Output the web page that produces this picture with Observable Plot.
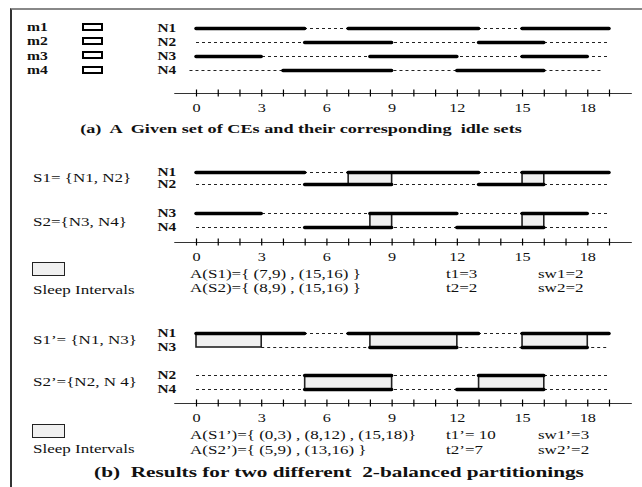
<!DOCTYPE html>
<html><head><meta charset="utf-8">
<script src="https://cdn.jsdelivr.net/npm/d3@7"></script>
<script src="https://cdn.jsdelivr.net/npm/@observablehq/plot@0.6"></script>
<style>
body{margin:0;background:#fff;}
#fig{position:relative;width:642px;height:487px;overflow:hidden;font-family:"Liberation Serif","DejaVu Serif",serif;color:#111;background:#fff;}
#fig svg{position:absolute;left:0;top:0;}
.t{position:absolute;white-space:pre;font-size:12.5px;line-height:1;transform-origin:0 50%;transform:translateY(-50%) scaleX(1.36);}
.b{font-weight:bold;transform:translateY(-50%) scaleX(1.25);}
.cap{font-weight:bold;transform-origin:50% 50%;}
.border{position:absolute;left:10px;top:8px;width:700px;height:600px;border-left:2px solid #333;border-top:2px solid #888;}
.sw{position:absolute;border:1.5px solid #222;background:#f0f0f0;box-sizing:border-box;}
.mbox{position:absolute;border:2px solid #000;background:#fff;box-sizing:border-box;width:21px;height:8px;}
</style></head><body><div id="fig"><div class="border"></div></div>
<script>
// ---------- data ----------
const machines = ["m1", "m2", "m3", "m4"];
const nodesA = ["N1", "N2", "N3", "N4"];
const n1Active = [[0, 5], [7, 13], [15, 19]];
const n2Active = [[5, 9], [13, 16]];
const n3Active = [[0, 3], [8, 12], [15, 18]];
const n3ActiveB2 = [[8, 12], [15, 18]];
const n4ActiveA = [[4, 9], [12, 16]];
const n4ActiveB = [[5, 9], [12, 16]];
const fullSpan = [0, 19];
const n4SpanA = [-0.3, 18.7];
const sleepS1 = [[7, 9], [15, 16]];
const sleepS2 = [[8, 9], [15, 16]];
const sleepS1p = [[0, 3], [8, 12], [15, 18]];
const sleepS2p = [[5, 9], [13, 16]];
const tickMarks = [0,1,2,3,4,5,6,7,8,9,10,11,12,13,14,15,16,17,18,19];
const tickLabels = [0, 3, 6, 9, 12, 15, 18];
const axisExtent = [-1, 20.05];
const groupLabels = ["S1= {N1, N2}", "S2={N3, N4}", "S1\u2019= {N1, N3}", "S2\u2019={N2, N 4}"];
const setTextsB1 = ["A(S1)={ (7,9) , (15,16) }", "A(S2)={ (8,9) , (15,16) }"];
const tTextsB1 = ["t1=3", "t2=2"];
const swTextsB1 = ["sw1=2", "sw2=2"];
const setTextsB2 = ["A(S1\u2019)={ (0,3) , (8,12) , (15,18)}", "A(S2\u2019)={ (5,9) , (13,16) }"];
const tTextsB2 = ["t1\u2019= 10", "t2\u2019=7"];
const swTextsB2 = ["sw1\u2019=3", "sw2\u2019=2"];
const legendLabel = "Sleep Intervals";
const captions = ["(a)  A  Given set of CEs and their corresponding  idle sets",
                  "(b)  Results for two different  2-balanced partitionings"];

// ---------- drawing ----------
const fig = document.getElementById("fig");
const X = {domain: [0, 19], range: [196, 609], axis: null};
const FONT = "'Liberation Serif', 'DejaVu Serif', serif";

function stretchText(svg, k) {
  svg.querySelectorAll("text").forEach(t => {
    t.setAttribute("transform", (t.getAttribute("transform") || "") + ` scale(${k},1)`);
  });
  return svg;
}

function group(rows, yRange, actives, spans, sleeps) {
  const idle = rows.map((r, i) => ({row: r, x1: spans[i][0], x2: spans[i][1]}));
  const act = rows.flatMap((r, i) => actives[i].map(([a, b]) => ({row: r, x1: a, x2: b})));
  const sl = (sleeps || []).map(([a, b]) => ({x1: a, x2: b}));
  return stretchText(Plot.plot({
    width: 642, height: 487, marginTop: 0, marginRight: 0, marginBottom: 0, marginLeft: 157,
    style: {background: "transparent", fontFamily: FONT},
    x: X,
    y: {type: "point", domain: rows, range: yRange, padding: 0, axis: null},
    marks: [
      Plot.ruleY(idle, {y: "row", x1: "x1", x2: "x2", stroke: "#222", strokeWidth: 1, strokeDasharray: "3,3"}),
      Plot.rect(sl, {x1: "x1", x2: "x2", y1: () => rows[0], y2: () => rows[rows.length - 1],
                     fill: "#f0f0f0", stroke: "#222", strokeWidth: 1.6}),
      Plot.ruleY(act, {y: "row", x1: "x1", x2: "x2", stroke: "#000", strokeWidth: 3.5, strokeLinecap: "round"}),
      Plot.text(rows, {y: d => d, text: d => d, frameAnchor: "left", textAnchor: "start",
                       fontWeight: "bold", fontSize: 12, fill: "#111"})
    ]
  }), 1.28);
}

function axis(yPos) {
  return stretchText(Plot.plot({
    width: 642, height: 487, margin: 0,
    style: {background: "transparent", fontFamily: FONT},
    x: X,
    y: {type: "band", domain: ["axis"], range: [yPos, yPos], padding: 0, axis: null},
    marks: [
      Plot.ruleY(["axis"], {x1: axisExtent[0], x2: axisExtent[1], stroke: "#333", strokeWidth: 1.2}),
      Plot.tickX(tickMarks, {x: d => d, y: () => "axis", insetTop: -3.5, insetBottom: -3.5, stroke: "#000", strokeWidth: 1.2}),
      Plot.text(tickLabels, {x: d => d, y: () => "axis", dy: 14, text: d => String(d), fontSize: 12.5, fill: "#111"})
    ]
  }), 1.3);
}

// panel (a)
fig.appendChild(group(nodesA, [27, 70], [n1Active, n2Active, n3Active, n4ActiveA],
                      [fullSpan, fullSpan, fullSpan, n4SpanA], null));
fig.appendChild(axis(93));
// panel (b) first partitioning
fig.appendChild(group(["N1", "N2"], [171.7, 184.3], [n1Active, n2Active], [fullSpan, fullSpan], sleepS1));
fig.appendChild(group(["N3", "N4"], [212.7, 227.3], [n3Active, n4ActiveB], [fullSpan, fullSpan], sleepS2));
fig.appendChild(axis(241.7));
// panel (b) second partitioning
fig.appendChild(group(["N1", "N3"], [332.7, 346.7], [n1Active, n3ActiveB2], [fullSpan, [3, 19]], sleepS1p));
fig.appendChild(group(["N2", "N4"], [375, 389], [n2Active, n4ActiveB], [fullSpan, fullSpan], sleepS2p));
fig.appendChild(axis(402.7));

function txt(s, x, y, cls, extra) {
  const d = document.createElement("div");
  d.className = "t " + (cls || "");
  d.textContent = s;
  d.style.left = x + "px"; d.style.top = y + "px";
  if (extra) Object.assign(d.style, extra);
  fig.appendChild(d);
}
function box(cls, x, y, w, h) {
  const d = document.createElement("div");
  d.className = cls;
  d.style.left = x + "px"; d.style.top = y + "px";
  if (w) { d.style.width = w + "px"; d.style.height = h + "px"; }
  fig.appendChild(d);
}
// legend machines
[27, 41.3, 55.7, 70].forEach((y, i) => { txt(machines[i], 27, y, "b"); box("mbox", 82, y - 4.5); });
txt(captions[0], 301, 128, "cap", {fontSize: "13px", transform: "translate(-50%,-50%) scaleX(1.4)"});
// b1 texts
txt(groupLabels[0], 33, 178); txt(groupLabels[1], 33, 222);
box("sw", 32, 262, 33, 14); txt(legendLabel, 33, 290);
[274, 288].forEach((y, i) => { txt(setTextsB1[i], 190, y); txt(tTextsB1[i], 446, y); txt(swTextsB1[i], 538, y); });
// b2 texts
txt(groupLabels[2], 33, 340); txt(groupLabels[3], 33, 382);
box("sw", 32, 424, 33, 14); txt(legendLabel, 33, 449);
[435, 450].forEach((y, i) => { txt(setTextsB2[i], 190, y); txt(tTextsB2[i], 446, y); txt(swTextsB2[i], 538, y); });
txt(captions[1], 339, 473, "cap", {fontSize: "14px", transform: "translate(-50%,-50%) scaleX(1.52)"});
</script></body></html>
